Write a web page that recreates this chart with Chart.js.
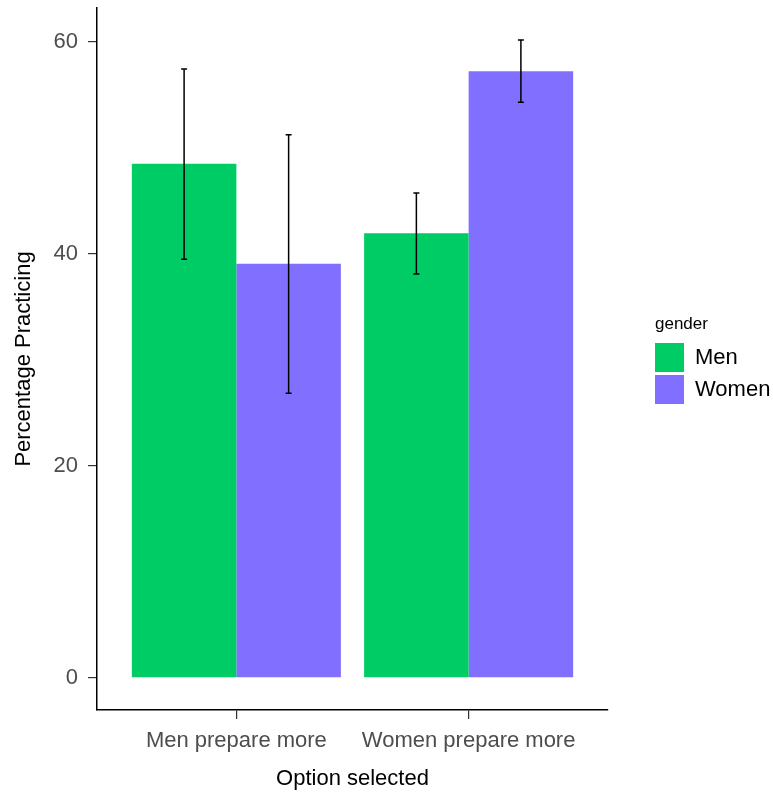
<!DOCTYPE html>
<html>
<head>
<meta charset="utf-8">
<script src="https://cdn.jsdelivr.net/npm/chart.js@4"></script>
<style>
  html, body { margin: 0; padding: 0; background: #fff; }
  #wrap { width: 773px; height: 792px; position: relative; }
</style>
</head>
<body>
<div id="wrap"><canvas id="chart" width="773" height="792"></canvas></div>
<script>
// Data
const categories = ['Men prepare more', 'Women prepare more'];
const groupNames = ['Men', 'Women'];
const menValues = [48.5, 41.95];
const womenValues = [39.06, 57.24];
const menLower = [39.5, 38.1];
const menUpper = [57.45, 45.75];
const womenLower = [26.86, 54.3];
const womenUpper = [51.25, 60.19];
const yTicks = [0, 20, 40, 60];

const colors = ['#00CC66', '#8170FF'];
const font = "Arial, 'Liberation Sans', sans-serif";

// category positions 1..n on a linear axis (ggplot style discrete expand)
const xPos = categories.map((c, i) => i + 1);

function toPoints(vals) {
    return vals.map((v, i) => ({ x: xPos[i], y: v }));
}

// Error bars drawn at each bar centre
const errorBars = {
    id: 'errorBars',
    afterDatasetsDraw(chart) {
        const ctx = chart.ctx;
        const y = chart.scales.y;
        const lows = [menLower, womenLower];
        const highs = [menUpper, womenUpper];
        ctx.save();
        ctx.strokeStyle = '#000';
        ctx.lineWidth = 1.5;
        chart.data.datasets.forEach((ds, i) => {
            const meta = chart.getDatasetMeta(i);
            meta.data.forEach((bar, j) => {
                const top = y.getPixelForValue(highs[i][j]);
                const bot = y.getPixelForValue(lows[i][j]);
                const x = bar.x;
                ctx.beginPath();
                ctx.moveTo(x, top);
                ctx.lineTo(x, bot);
                ctx.moveTo(x - 3, top);
                ctx.lineTo(x + 3, top);
                ctx.moveTo(x - 3, bot);
                ctx.lineTo(x + 3, bot);
                ctx.stroke();
            });
        });
        ctx.restore();
    }
};

// ggplot-like legend on the right
const sideLegend = {
    id: 'sideLegend',
    afterDraw(chart) {
        const ctx = chart.ctx;
        const left = 655;
        ctx.save();
        ctx.fillStyle = '#000';
        ctx.textBaseline = 'middle';
        ctx.textAlign = 'left';
        ctx.font = '17px ' + font;
        ctx.fillText('gender', left, 324);
        chart.data.datasets.forEach((ds, i) => {
            const top = 343 + i * 32;
            ctx.fillStyle = ds.backgroundColor;
            ctx.fillRect(left, top, 29, 29);
            ctx.fillStyle = '#000';
            ctx.font = '22px ' + font;
            ctx.fillText(ds.label, left + 40, top + 15);
        });
        ctx.restore();
    }
};

new Chart(document.getElementById('chart'), {
    type: 'bar',
    data: {
        datasets: [
            { label: groupNames[0], data: toPoints(menValues), backgroundColor: colors[0] },
            { label: groupNames[1], data: toPoints(womenValues), backgroundColor: colors[1] }
        ]
    },
    options: {
        responsive: false,
        animation: false,
        events: [],
        categoryPercentage: 0.9,
        barPercentage: 1.0,
        layout: { padding: { top: 8, right: 165, left: 0, bottom: 0 } },
        plugins: {
            legend: { display: false },
            tooltip: { enabled: false }
        },
        scales: {
            x: {
                type: 'linear',
                offset: false,
                min: 0.4,
                max: xPos.length + 0.6,
                afterBuildTicks: (scale) => { scale.ticks = xPos.map(v => ({ value: v })); },
                afterFit: (scale) => {
                    scale.height = 82;
                    scale.paddingLeft = 0;
                    scale.paddingRight = 0;
                },
                grid: { offset: false, drawOnChartArea: false, drawTicks: true, tickLength: 9, color: '#333', lineWidth: 1.2 },
                border: { display: true, color: '#000', width: 1.5 },
                ticks: {
                    color: '#4D4D4D',
                    font: { family: font, size: 22 },
                    padding: 9,
                    maxRotation: 0,
                    autoSkip: false,
                    callback: (v) => categories[v - 1] || ''
                },
                title: {
                    display: true,
                    text: 'Option selected',
                    color: '#000',
                    font: { family: font, size: 22 },
                    padding: { top: 6, bottom: 0 }
                }
            },
            y: {
                min: -3.03,
                max: 63.2,
                afterBuildTicks: (scale) => { scale.ticks = yTicks.map(v => ({ value: v })); },
                afterFit: (scale) => {
                    scale.width = 97;
                    scale.paddingTop = 0;
                    scale.paddingBottom = 0;
                },
                grid: { drawOnChartArea: false, drawTicks: true, tickLength: 9, color: '#333', lineWidth: 1.2 },
                border: { display: true, color: '#000', width: 1.5 },
                ticks: {
                    color: '#4D4D4D',
                    font: { family: font, size: 22 },
                    padding: 10
                },
                title: {
                    display: true,
                    text: 'Percentage Practicing',
                    color: '#000',
                    font: { family: font, size: 22 },
                    padding: { top: 11, bottom: 0 }
                }
            }
        }
    },
    plugins: [errorBars, sideLegend]
});
</script>
</body>
</html>
